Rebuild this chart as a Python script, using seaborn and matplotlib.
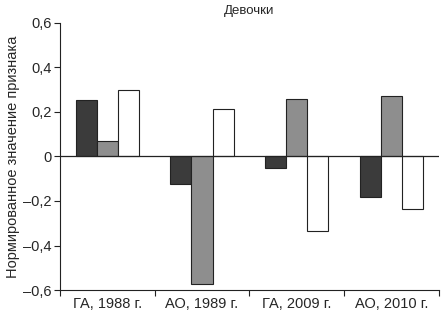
import seaborn as sns
import matplotlib.pyplot as plt
import pandas as pd

groups = ['ГА, 1988 г.', 'АО, 1989 г.', 'ГА, 2009 г.', 'АО, 2010 г.']
series = ['s1', 's2', 's3']
values_s1 = [0.255, -0.125, -0.05, -0.18]
values_s2 = [0.07, -0.575, 0.26, 0.27]
values_s3 = [0.30, 0.215, -0.335, -0.235]
yticks = [-0.6, -0.4, -0.2, 0, 0.2, 0.4, 0.6]
ytick_labels = ['–0,6', '–0,4', '–0,2', '0', '0,2', '0,4', '0,6']

df = pd.DataFrame({
    'group': groups * 3,
    'series': [s for s in series for _ in groups],
    'value': values_s1 + values_s2 + values_s3,
})

sns.set_theme(style='white')
plt.rcParams['font.family'] = ['Liberation Sans', 'DejaVu Sans']

fig = plt.figure(figsize=(4.44, 3.17), dpi=100)
ax = fig.add_axes([0.135, 0.085, 0.853, 0.843])

sns.barplot(data=df, x='group', y='value', hue='series', order=groups,
            palette=['#3b3b3b', '#8e8e8e', '#ffffff'], edgecolor='#222222',
            linewidth=0.8, width=0.67, legend=False, ax=ax)

ax.axhline(0, color='#222222', lw=0.9, zorder=3)
ax.set_xlim(-0.5, 3.5)
ax.set_ylim(-0.6, 0.6)
ax.set_yticks(yticks)
ax.set_yticklabels(ytick_labels)
ax.set_xticks(range(4))
ax.set_xticklabels(groups)
ax.set_xticks([-0.5, 0.5, 1.5, 2.5, 3.5], minor=True)
ax.tick_params(axis='x', which='major', length=0, pad=5, labelsize=10.5)
ax.tick_params(axis='x', which='minor', length=4, width=0.8, color='#222222', direction='out', bottom=True)
ax.tick_params(axis='y', length=4, width=0.8, color='#222222', direction='out', left=True, labelsize=10.5, pad=2)

for s in ['top', 'right']:
    ax.spines[s].set_visible(False)
for s in ['left', 'bottom']:
    ax.spines[s].set_color('#222222')
    ax.spines[s].set_linewidth(0.8)

ax.set_xlabel('')
ax.set_ylabel('Нормированное значение признака', fontsize=10.5, labelpad=2)
ax.set_title('Девочки', fontsize=9.5, pad=6)

fig.savefig('out.png', dpi=100)
